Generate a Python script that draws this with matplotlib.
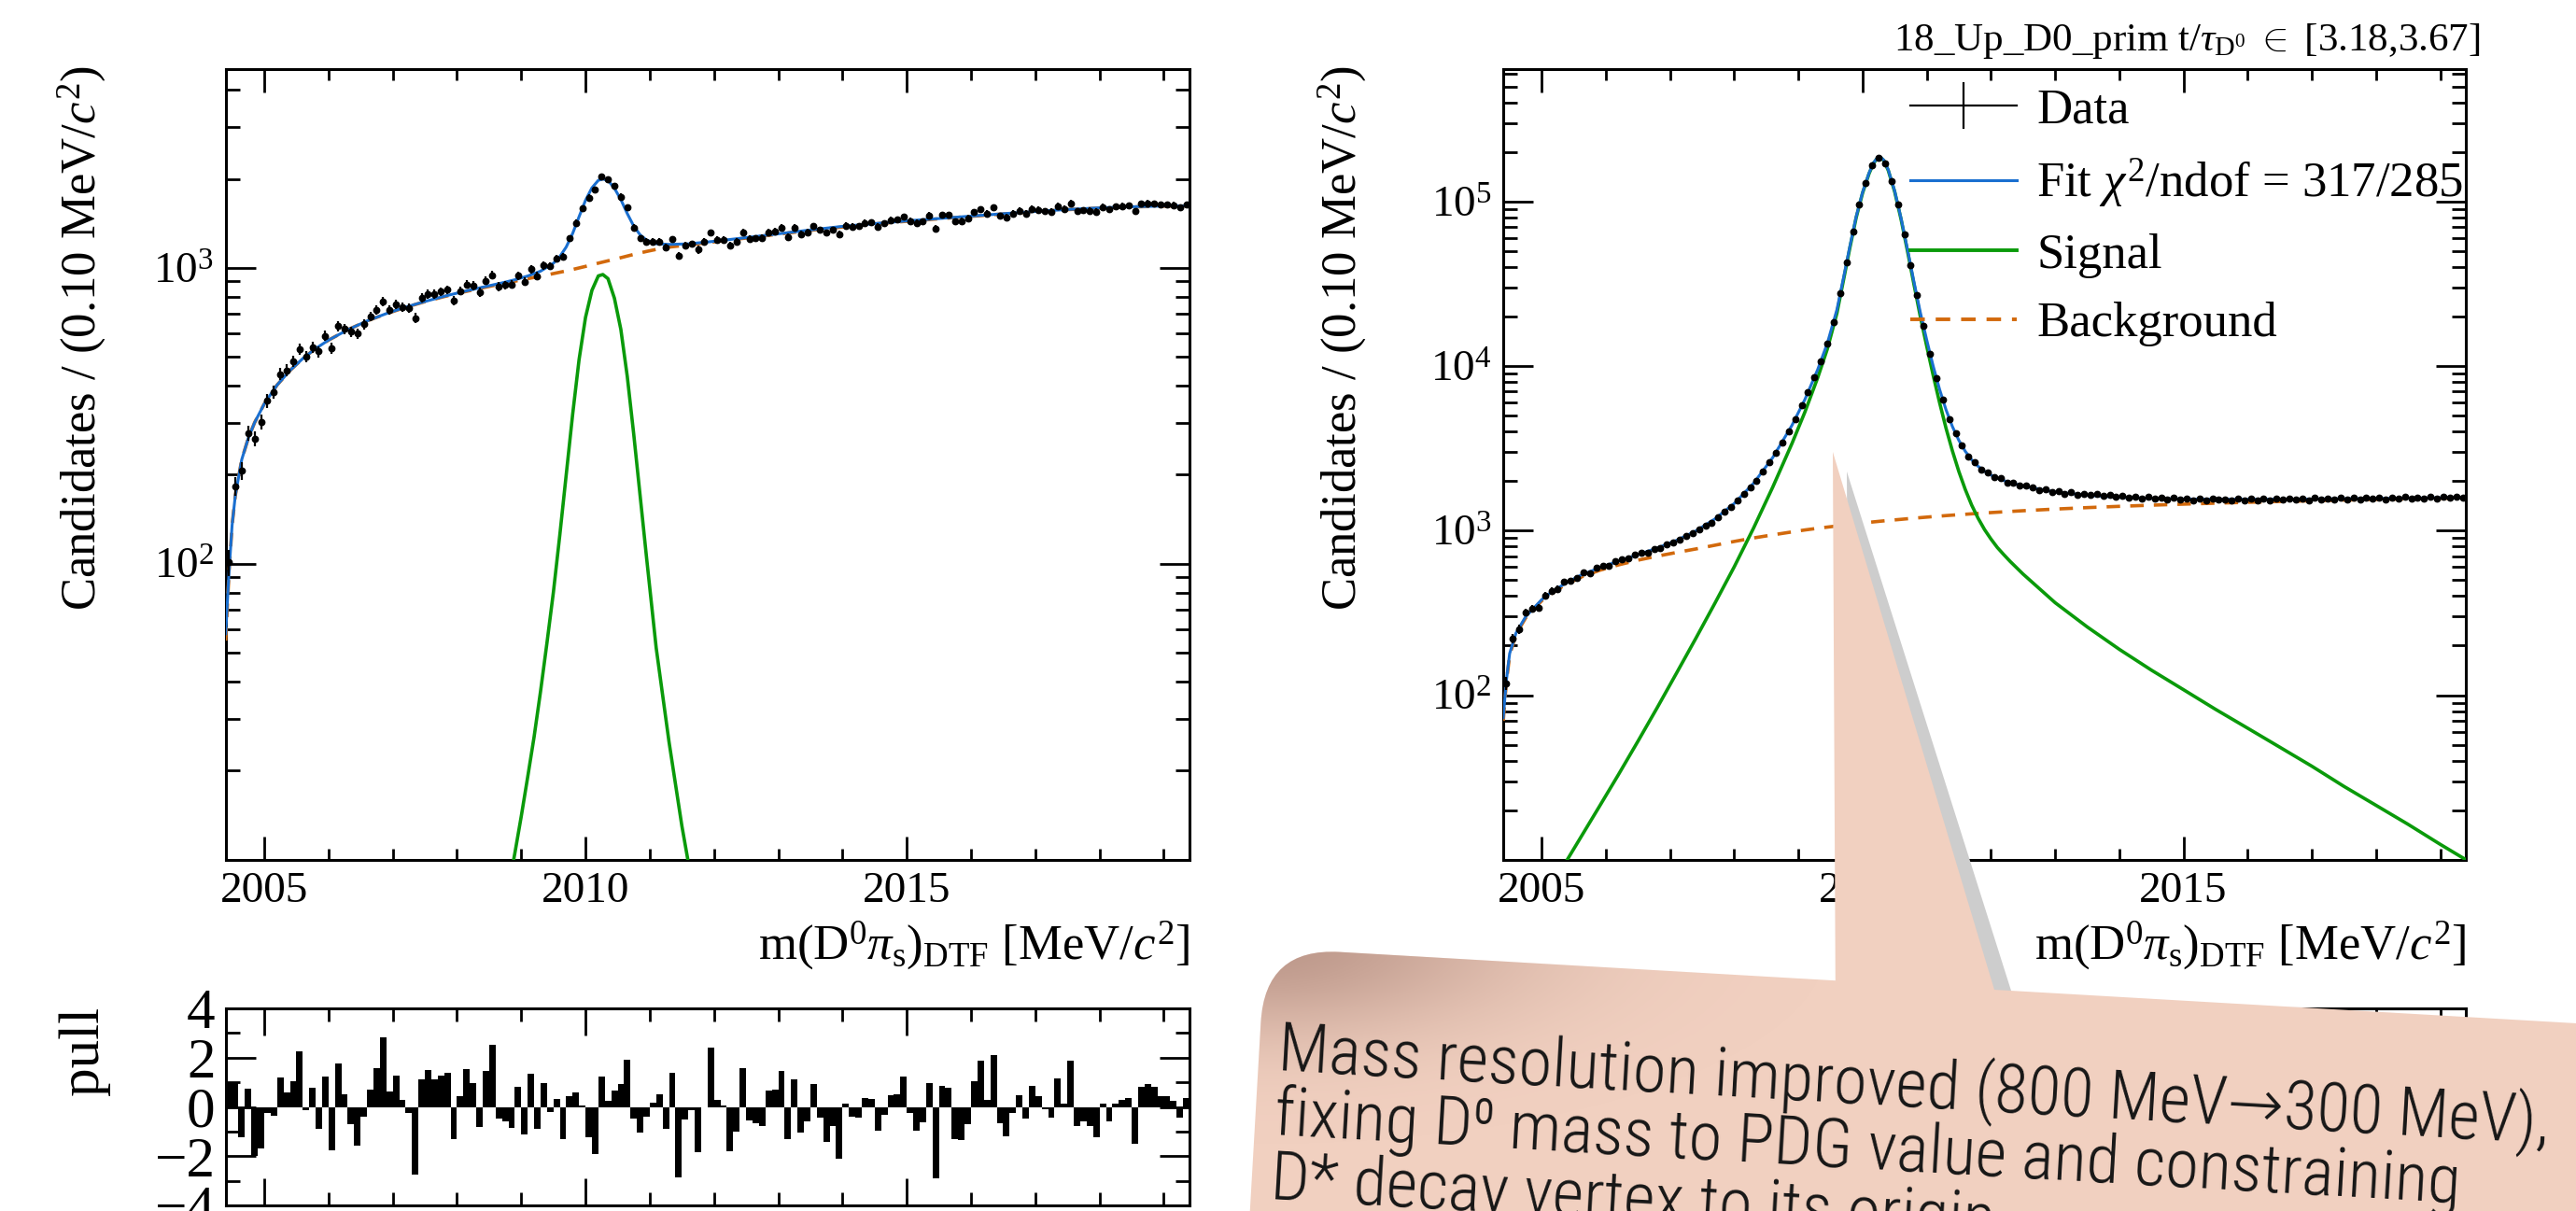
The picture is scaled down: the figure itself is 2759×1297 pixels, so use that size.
import numpy as np
import matplotlib
matplotlib.use("Agg")
import matplotlib.pyplot as plt
from matplotlib import font_manager as fm
from matplotlib.font_manager import FontProperties
from matplotlib.patches import FancyBboxPatch, Polygon
from matplotlib.transforms import Affine2D
from matplotlib.lines import Line2D
from matplotlib.ticker import FixedLocator, MultipleLocator, NullFormatter

plt.rcParams['font.family'] = ['Liberation Serif', 'DejaVu Serif']
plt.rcParams['mathtext.fontset'] = 'custom'
plt.rcParams['mathtext.rm'] = 'Liberation Serif'
plt.rcParams['mathtext.it'] = 'Liberation Serif:italic'
plt.rcParams['mathtext.bf'] = 'Liberation Serif:bold'

# ---------------- data ----------------
bin_lo, bin_hi, bin_w = 2004.4, 2019.4, 0.1
xtick_major = [2005, 2010, 2015]

left_data = [101,183,206,277,265,302,356,381,438,451,
             484,533,501,541,522,590,536,637,622,608,
             600,645,686,722,769,723,752,738,734,677,
             793,816,815,831,844,778,836,879,871,828,
             905,945,866,875,879,943,898,990,938,1019,
             1014,1074,1090,1257,1422,1592,1728,1837,2045,1988,
             1889,1741,1602,1368,1257,1229,1224,1223,1171,1249,
             1102,1188,1204,1152,1223,1315,1247,1246,1188,1224,
             1322,1254,1257,1262,1320,1330,1365,1272,1368,1298,
             1322,1384,1342,1313,1343,1301,1391,1378,1383,1418,
             1424,1381,1412,1449,1456,1489,1438,1416,1434,1502,
             1358,1508,1510,1436,1439,1470,1542,1581,1525,1601,
             1499,1483,1527,1560,1528,1585,1574,1558,1550,1617,
             1582,1654,1553,1565,1561,1547,1605,1578,1610,1620,
             1625,1552,1647,1653,1650,1637,1637,1630,1603,1636]

left_pull = [0.95,1.0,-1.24,0.73,-2.0,-1.67,-0.25,-0.35,1.2,0.6,
             1.06,2.25,-0.15,0.76,-0.9,1.24,-1.77,1.77,0.5,-0.7,
             -1.58,-0.38,0.7,1.57,2.84,0.63,1.26,0.3,-0.25,-2.73,
             1.1,1.5,1.1,1.26,1.39,-1.29,0.43,1.55,0.97,-0.82,
             1.47,2.52,-0.48,-0.57,-0.85,0.82,-1.11,1.36,-0.88,0.98,
             -0.19,0.32,-1.3,0.44,0.6,0.05,-1.24,-1.9,1.24,0.25,
             0.68,0.93,1.92,-0.48,-1.04,-0.38,0.18,0.53,-0.9,1.39,
             -2.88,-0.5,-0.13,-1.82,0.0,2.42,0.28,0.05,-1.8,-1.0,
             1.57,-0.56,-0.66,-0.76,0.67,0.72,1.46,-1.31,1.1,-1.04,
             -0.6,0.91,-0.44,-1.41,-0.78,-2.1,0.14,-0.38,-0.42,0.35,
             0.32,-0.97,-0.33,0.49,0.53,1.24,-0.23,-0.97,-0.63,0.98,
             -2.9,0.85,0.78,-1.29,-1.36,-0.71,1.04,1.87,0.28,2.1,
             -0.66,-1.21,-0.23,0.48,-0.48,0.85,0.43,-0.1,-0.43,1.16,
             0.15,1.87,-0.78,-0.58,-0.78,-1.24,0.15,-0.6,0.13,0.3,
             0.35,-1.49,0.81,0.92,0.83,0.44,0.43,0.25,-0.44,0.35]

left_curve_x = [2004.40, 2004.45, 2004.50, 2004.55, 2004.65, 2004.75, 2004.85, 2005.0, 2005.2,
                2005.4, 2005.6, 2005.8, 2006.0, 2006.3, 2006.6, 2006.9, 2007.2, 2007.5, 2007.8,
                2008.1, 2008.4, 2008.7, 2008.9, 2009.1, 2009.3, 2009.5, 2009.6, 2009.7, 2009.8,
                2009.9, 2010.0, 2010.1, 2010.2, 2010.27, 2010.35, 2010.45, 2010.55, 2010.65,
                2010.75, 2010.85, 2010.95, 2011.1, 2011.3, 2011.6, 2012.0, 2012.5, 2013.0,
                2013.5, 2014.0, 2014.5, 2015.0, 2015.5, 2016.0, 2016.5, 2017.0, 2017.5, 2018.0,
                2018.5, 2019.0, 2019.4]
left_fit = [58, 92, 135, 170, 225, 265, 300, 347, 402,
            450, 494, 534, 570, 618, 662, 701, 737, 770, 802,
            832, 861, 890, 912, 939, 975, 1037, 1092, 1177, 1308,
            1490, 1692, 1865, 1978, 1997, 1977, 1860, 1703, 1527,
            1386, 1294, 1242, 1207, 1201, 1206, 1230, 1266, 1304,
            1344, 1382, 1412, 1442, 1469, 1497, 1525, 1552, 1576, 1596,
            1610, 1619, 1622]
left_bkg = [55, 92, 135, 170, 225, 265, 300, 347, 402,
            450, 494, 534, 570, 618, 662, 700, 736, 769, 800,
            829, 857, 884, 902, 920, 938, 957, 967, 977, 988,
            1000, 1012, 1025, 1038, 1047, 1057, 1070, 1083, 1097,
            1111, 1124, 1137, 1155, 1176, 1196, 1225, 1262, 1300,
            1340, 1375, 1408, 1438, 1466, 1494, 1522, 1550, 1574, 1594,
            1608, 1617, 1621]
left_sig_x = [2008.80, 2008.9, 2009.0, 2009.1, 2009.2, 2009.3, 2009.4, 2009.5, 2009.6, 2009.7,
              2009.8, 2009.9, 2010.0, 2010.1, 2010.2, 2010.27, 2010.35, 2010.45, 2010.55,
              2010.65, 2010.75, 2010.85, 2010.95, 2011.1, 2011.3, 2011.5, 2011.65]
left_sig = [8, 10.5, 14, 19, 26, 37, 54, 80, 125, 200,
            320, 490, 680, 840, 940, 950, 920, 790, 620,
            430, 275, 170, 105, 52, 25, 13, 8.5]

right_data = [118,222,251,318,335,340,402,430,441,488,
              493,515,556,552,598,611,609,655,670,676,
              716,731,739,778,785,830,850,880,925,960,
              1015,1070,1120,1210,1300,1400,1520,1670,1840,2010,
              2290,2610,2980,3450,4030,4760,5770,6980,8600,10750,
              13800,18600,27800,42900,65800,96800,130700,166400,185700,171300,
              134200,96800,63200,41100,26900,17600,11900,8450,6300,4750,
              3900,3300,2840,2600,2360,2260,2110,2080,1960,1960,
              1870,1870,1840,1760,1790,1710,1740,1680,1710,1650,
              1680,1660,1680,1630,1650,1610,1630,1590,1610,1570,
              1600,1560,1590,1550,1580,1540,1570,1535,1560,1530,
              1575,1540,1555,1520,1565,1535,1560,1530,1570,1535,
              1565,1540,1575,1545,1570,1530,1590,1545,1575,1550,
              1590,1545,1580,1555,1590,1560,1595,1550,1590,1565,
              1600,1560,1595,1575,1600,1570,1605,1580,1600,1585]

right_curve_x = [2004.40, 2004.45, 2004.5, 2004.6, 2004.75, 2005.0, 2005.1, 2005.35, 2005.6, 2005.9,
                 2006.2, 2006.5, 2006.8, 2007.1, 2007.4, 2007.7, 2008.0, 2008.3, 2008.6, 2008.9,
                 2009.1, 2009.3, 2009.45, 2009.6, 2009.7, 2009.8, 2009.9, 2010.0, 2010.1, 2010.17,
                 2010.23, 2010.28, 2010.33, 2010.4, 2010.5, 2010.6, 2010.7, 2010.8, 2010.9, 2011.0,
                 2011.1, 2011.2, 2011.3, 2011.4, 2011.5, 2011.6, 2011.7, 2011.8, 2011.9, 2012.0,
                 2012.1, 2012.2, 2012.3, 2012.5, 2013.0, 2013.5, 2014.0, 2014.5, 2015.0, 2015.5,
                 2016.0, 2016.5, 2017.0, 2017.5, 2018.0, 2018.5, 2019.0, 2019.4]
right_sig = [3.2, 3.5, 3.8, 4.3, 5.0, 6.0, 6.7, 9.3, 13.5, 21.1,
             33.1, 52.5, 84, 136, 221, 363, 603, 1035, 1840, 3390,
             5250, 8500, 12700, 21000, 33000, 52000, 80000, 113000, 148000, 171000,
             184000, 185500, 178000, 155000, 115000, 78000, 50000, 31500, 20000, 13200,
             8800, 6000, 4200, 3050, 2290, 1780, 1430, 1190, 1016, 890,
             790, 715, 650, 545, 365, 260, 190, 142, 108, 82,
             63, 48.3, 37, 27.9, 21.4, 16.4, 12.4, 10.0]
right_bkg = [70, 120, 175, 235, 295, 375, 402, 465, 520, 574,
             620, 662, 700, 737, 774, 816, 860, 903, 943, 983,
             1010, 1034, 1051, 1068, 1079, 1090, 1101, 1112, 1123, 1131,
             1137, 1142, 1147, 1154, 1163, 1172, 1182, 1191, 1200, 1209,
             1218, 1226, 1235, 1243, 1251, 1258, 1266, 1273, 1281, 1288,
             1295, 1302, 1309, 1322, 1353, 1381, 1406, 1429, 1450, 1470,
             1488, 1505, 1520, 1535, 1548, 1561, 1572, 1580]
right_fit = [73, 123.5, 179, 239, 300, 381, 409, 474, 534, 595,
             653, 715, 784, 873, 995, 1179, 1463, 1938, 2783, 4373,
             6260, 9534, 13751, 22068, 34079, 53090, 81101, 114112, 149123, 172131,
             185137, 186642, 179147, 156154, 116163, 79172, 51182, 32691, 21200, 14409,
             10018, 7226, 5435, 4293, 3541, 3038, 2696, 2463, 2297, 2178,
             2085, 2017, 1959, 1867, 1718, 1641, 1596, 1571, 1558, 1552,
             1551, 1553, 1557, 1563, 1569, 1577, 1584, 1590]

legend_labels = ['Data', r'Fit $\chi^{2}$/ndof = 317/285', 'Signal', 'Background']
header_text = r'18_Up_D0_prim t/$\tau_{\mathrm{D}^{0}}\ \in\ $[3.18,3.67]'
ytitle = r'Candidates / (0.10 MeV/$c^{2}$)'
xtitle = r'm(D$^{0}$$\pi_{\mathrm{s}}$)$_{\mathrm{DTF}}$ [MeV/$c^{2}$]'
note_lines = ['Mass resolution improved (800 MeV\u2192300 MeV),',
              'fixing D\u2070 mass to PDG value and constraining',
              'D* decay vertex to its origin']

# ---------------- styling ----------------
C_FIT = '#1a6fd0'
C_SIG = '#0a9a0a'
C_BKG = '#d2690c'
PINK = '#f1d0c0'

W, H = 2759, 1297
fig = plt.figure(figsize=(W / 100, H / 100), dpi=100)


def frac(x0, y0, x1, y1):
    return [x0 / W, 1 - y1 / H, (x1 - x0) / W, (y1 - y0) / H]


axL = fig.add_axes(frac(241.7, 74, 1274, 920.7))
axR = fig.add_axes(frac(1610, 74, 2641, 920.7))
axPL = fig.add_axes(frac(241.7, 1080, 1274, 1291))
axPR = fig.add_axes(frac(1610, 1080, 2641, 1291))

edges = np.round(np.arange(bin_lo, bin_hi + bin_w / 2, bin_w), 3)
centers = edges[:-1] + bin_w / 2


def style_main(ax, ymax, dec_labels):
    ax.set_xlim(bin_lo, bin_hi)
    ax.set_yscale('log')
    ax.set_ylim(10, ymax)
    ax.xaxis.set_major_locator(FixedLocator(xtick_major))
    ax.xaxis.set_minor_locator(MultipleLocator(1))
    ax.set_xticklabels([str(v) for v in xtick_major])
    decs = [10 ** k for k in range(1, 7) if 10 ** k <= ymax]
    ax.yaxis.set_major_locator(FixedLocator(decs))
    ax.set_yticklabels(['' if d not in dec_labels else r'$10^{%d}$' % int(np.log10(d)) for d in decs])
    minors = [m * d for d in decs for m in range(2, 10) if m * d < ymax]
    ax.yaxis.set_minor_locator(FixedLocator(minors))
    ax.yaxis.set_minor_formatter(NullFormatter())
    ax.tick_params(axis='x', which='major', direction='in', length=18, width=2,
                   top=True, bottom=True, labelsize=34, pad=9)
    ax.tick_params(axis='x', which='minor', direction='in', length=8.5, width=2, top=True, bottom=True)
    ax.tick_params(axis='y', which='major', direction='in', length=23, width=2,
                   left=True, right=True, labelsize=34, pad=9)
    ax.tick_params(axis='y', which='minor', direction='in', length=11, width=2, left=True, right=True)
    for s in ax.spines.values():
        s.set_linewidth(2.2)


def style_pull(ax):
    ax.set_xlim(bin_lo, bin_hi)
    ax.set_ylim(-4, 4)
    ax.xaxis.set_major_locator(FixedLocator(xtick_major))
    ax.xaxis.set_minor_locator(MultipleLocator(1))
    ax.yaxis.set_major_locator(FixedLocator([-4, -2, 0, 2, 4]))
    ax.set_yticklabels(['\u22124', '\u22122', '0', '2', '4'])
    ax.yaxis.set_minor_locator(FixedLocator([-3, -1, 1, 3]))
    ax.tick_params(axis='x', which='major', direction='in', length=21, width=2,
                   top=True, bottom=True, labelbottom=False)
    ax.tick_params(axis='x', which='minor', direction='in', length=10, width=2, top=True, bottom=True)
    ax.tick_params(axis='y', which='major', direction='in', length=23, width=2,
                   left=True, right=True, labelsize=44, pad=8)
    ax.tick_params(axis='y', which='minor', direction='in', length=11, width=2, left=True, right=True)
    for s in ax.spines.values():
        s.set_linewidth(2.2)


# left main
axL.plot(left_curve_x, left_bkg, color=C_BKG, lw=2.6, dashes=(4, 3), zorder=3)
axL.plot(left_sig_x, left_sig, color=C_SIG, lw=2.6, zorder=3)
axL.plot(left_curve_x, left_fit, color=C_FIT, lw=2.2, zorder=4)
ld = np.array(left_data, dtype=float)
axL.errorbar(centers, ld, yerr=np.sqrt(ld), fmt='o', color='k', ms=4.6, elinewidth=1.6,
             capsize=0, zorder=5)
style_main(axL, 4700, [100, 1000])

# right main
axR.plot(right_curve_x, right_bkg, color=C_BKG, lw=2.6, dashes=(4, 3), zorder=3)
axR.plot(right_curve_x, right_sig, color=C_SIG, lw=2.6, zorder=3)
axR.plot(right_curve_x, right_fit, color=C_FIT, lw=2.2, zorder=4)
rd = np.array(right_data, dtype=float)
axR.errorbar(centers, rd, yerr=np.sqrt(rd), fmt='o', color='k', ms=4.6, elinewidth=1.6,
             capsize=0, zorder=5)
style_main(axR, 6.4e5, [100, 1000, 10000, 100000])

handles = [Line2D([], [], color='k', lw=1.6, marker='|', markersize=36, markeredgewidth=1.6),
           Line2D([], [], color=C_FIT, lw=2.2),
           Line2D([], [], color=C_SIG, lw=2.8),
           Line2D([], [], color=C_BKG, lw=2.8, dashes=(4, 3))]
axR.legend(handles, legend_labels, loc='upper left', bbox_to_anchor=(2046 / W, 1 - 94 / H),
           bbox_transform=fig.transFigure, frameon=False, fontsize=38, handlelength=2.16,
           handletextpad=0.4, labelspacing=0.48, borderpad=0, borderaxespad=0, numpoints=1)

# pulls
axPL.bar(centers, left_pull, width=bin_w, color='k', edgecolor='none', zorder=3)
style_pull(axPL)
style_pull(axPR)

# ---------------- overlay (texts + callout) ----------------
ax_o = fig.add_axes([0, 0, 1, 1])
ax_o.set_xlim(0, W)
ax_o.set_ylim(H, 0)
ax_o.axis('off')
ax_o.set_zorder(10)

ax_o.text(88, 70, ytitle, rotation=90, ha='right', va='center', rotation_mode='anchor', fontsize=38)
ax_o.text(1438, 70, ytitle, rotation=90, ha='right', va='center', rotation_mode='anchor', fontsize=38)
ax_o.text(90, 1078, 'pull', rotation=90, ha='right', va='center', rotation_mode='anchor', fontsize=44)
ax_o.text(1274, 1027, xtitle, ha='right', va='baseline', fontsize=38)
ax_o.text(2641, 1027, xtitle, ha='right', va='baseline', fontsize=38)
ax_o.text(2656, 54, header_text, ha='right', va='baseline', fontsize=31)

# callout
ang = 3.3
px, py = 1355, 1015
rot = Affine2D().rotate_deg_around(px, py, ang) + ax_o.transData
shadow = Polygon([(1963 + 15, 484 + 21), (1966 + 15, 1080), (2145 + 15, 1080)], closed=True,
                 fc='#cdcdcd', ec='none', zorder=1)
ax_o.add_patch(shadow)
wedge = Polygon([(1963, 484), (1966, 1090), (2145, 1090)], closed=True, fc=PINK, ec='none', zorder=2)
ax_o.add_patch(wedge)
box = FancyBboxPatch((px, py), 1700, 600, boxstyle='round,pad=0,rounding_size=80',
                     fc=PINK, ec='none', transform=rot, zorder=2)
ax_o.add_patch(box)

gx0, gx1, gy0, gy1 = 1320, 1950, 990, 1297
X, Y = np.meshgrid(np.linspace(gx0, gx1, 320), np.linspace(gy0, gy1, 160))
A = 0.62 * np.exp(-(((X - 1350) / 270) ** 2 + ((Y - 1012) / 95) ** 2))
img = np.zeros((160, 320, 4))
img[..., 0], img[..., 1], img[..., 2] = 0.62, 0.47, 0.42
img[..., 3] = A
im = ax_o.imshow(img, extent=(gx0, gx1, gy1, gy0), origin='upper', aspect='auto',
                 interpolation='bilinear', zorder=2.5)
im.set_clip_path(box)
ax_o.set_xlim(0, W)
ax_o.set_ylim(H, 0)

# choose a narrow sans font for the note
names = {f.name for f in fm.fontManager.ttflist}
fp = None
for cand in ['Roboto Condensed', 'Open Sans Condensed', 'Liberation Sans Narrow',
             'DejaVu Sans Condensed', 'Arial Narrow']:
    if cand in names:
        fp = FontProperties(family=[cand, 'DejaVu Sans'], weight='light')
        break
if fp is None:
    has_cond = any(f.name == 'DejaVu Sans' and 'ondensed' in str(f.fname) for f in fm.fontManager.ttflist)
    if has_cond:
        fp = FontProperties(family=['DejaVu Sans'], stretch='condensed')
    else:
        fp = FontProperties(family=['Liberation Sans', 'DejaVu Sans'])

# size the note so that its first line spans the same width as in the reference
fp.set_size(50)
probe = ax_o.text(0, 0, note_lines[0], fontproperties=fp)
fig.canvas.draw()
wpx = probe.get_window_extent().width
probe.remove()
size = min(54, 50 * 1365 / wpx)
fp.set_size(size)

sa, ca = np.sin(np.radians(ang)), np.cos(np.radians(ang))
x1, y1 = 1368, 1146
for k, line in enumerate(note_lines):
    ax_o.text(x1 - k * 69 * sa, y1 + k * 69 * ca, line, fontproperties=fp, color='#161616',
              rotation=-ang, rotation_mode='anchor', ha='left', va='baseline', zorder=4)

fig.savefig('out.png', dpi=100)
